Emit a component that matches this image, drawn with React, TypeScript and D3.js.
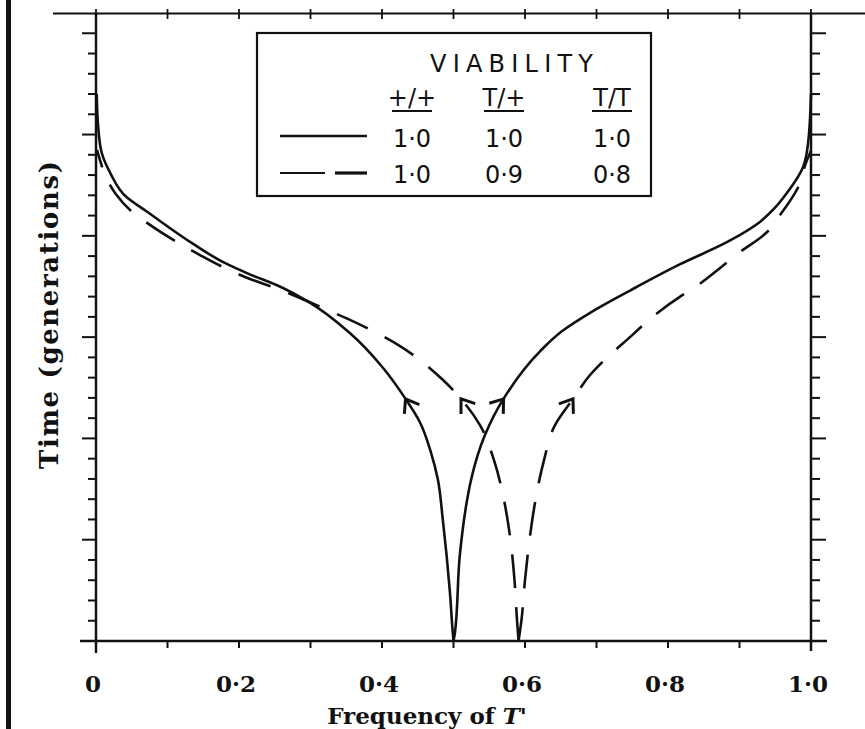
import React from 'react';
import * as d3 from 'd3';

// ---- data ----
const xTickValues = [0, 0.2, 0.4, 0.6, 0.8, 1.0];
const xTickLabels = ['0', '0·2', '0·4', '0·6', '0·8', '1·0'];
const xMinorValues = d3.range(0, 11).map((i) => i / 10);
const yMinorValues = d3.range(0, 31);
const yMajorValues = [0, 5, 10, 15, 20, 25, 30];

// [frequency, time]
const solidLeft: [number, number][] = [
  [0.5, 0], [0.499, 0.4], [0.495, 2.4], [0.485, 6.0], [0.478, 8.0], [0.4685, 9.3],
  [0.453, 10.8], [0.432, 12.0], [0.401, 13.5], [0.355, 15.2], [0.299, 16.7],
  [0.257, 17.5], [0.215, 18.1], [0.178, 18.7], [0.136, 19.6], [0.071, 21.2],
  [0.043, 21.9], [0.02, 23.1], [0.008, 24.1], [0.003, 25.4], [0.001, 27.0],
];
const solidRight: [number, number][] = [
  [0.5, 0], [0.502, 0.4], [0.509, 4.3], [0.519, 6.96], [0.5245, 7.95], [0.544, 10.17],
  [0.569, 11.9], [0.621, 14.3], [0.652, 15.3], [0.691, 16.2], [0.747, 17.3],
  [0.817, 18.6], [0.883, 19.7], [0.929, 20.7], [0.950, 21.4], [0.966, 22.1],
  [0.989, 23.4], [0.996, 24.6], [1.0, 27.0],
];
const dashedLeft: [number, number][] = [
  [0.591, 0], [0.5888, 1.04], [0.5853, 3.01], [0.5797, 4.99], [0.5706, 6.96],
  [0.5566, 8.93], [0.537, 10.66], [0.5105, 11.95], [0.4839, 12.93], [0.4601, 13.67],
  [0.4252, 14.56], [0.3902, 15.25], [0.3552, 15.85], [0.3203, 16.39], [0.2853, 16.93],
  [0.2503, 17.43], [0.2154, 17.87], [0.1804, 18.41], [0.1455, 19.05], [0.1105, 19.75],
  [0.0755, 20.54], [0.0476, 21.28], [0.0266, 22.12], [0.0126, 23.0], [0.0056, 23.74],
  [0.0014, 24.24],
];
const dashedRight: [number, number][] = [
  [0.591, 0], [0.5951, 1.04], [0.6, 3.01], [0.6063, 4.99], [0.6147, 6.96],
  [0.6266, 8.93], [0.642, 10.66], [0.6671, 11.95], [0.691, 13.13], [0.715, 14.0],
  [0.75, 15.1], [0.775, 15.9], [0.817, 17.0], [0.835, 17.4], [0.876, 18.5],
  [0.897, 19.1], [0.939, 20.2], [0.954, 20.9], [0.982, 22.4], [0.994, 23.7], [1.0, 24.2],
];
const arrowTime = 11.95;

const legendHeaders = ['+/+', 'T/+', 'T/T'];
const legendSolid = ['1·0', '1·0', '1·0'];
const legendDashed = ['1·0', '0·9', '0·8'];

export default function App() {
  const x = d3.scaleLinear().domain([0, 1]).range([96, 811]);
  const y = d3.scaleLinear().domain([0, 31]).range([641, 13]);
  const line = d3
    .line<[number, number]>()
    .x((d) => x(d[0]))
    .y((d) => y(d[1]))
    .curve(d3.curveMonotoneY);

  const arrowFor = (pts: [number, number][]) => {
    let i = 1;
    while (i < pts.length - 1 && pts[i][1] < arrowTime) i++;
    const a = pts[i - 1];
    const b = pts[i];
    const t = (arrowTime - a[1]) / (b[1] - a[1]);
    const fx = a[0] + (b[0] - a[0]) * t;
    const px = x(fx);
    const py = y(arrowTime);
    const dx = x(b[0]) - x(a[0]);
    const dy = y(b[1]) - y(a[1]);
    const ang = Math.atan2(-dy, -dx);
    const L = 15;
    const s = (36 * Math.PI) / 180;
    const p1 = [px + L * Math.cos(ang + s), py + L * Math.sin(ang + s)];
    const p2 = [px + L * Math.cos(ang - s), py + L * Math.sin(ang - s)];
    return `M${p1[0]},${p1[1]}L${px},${py}L${p2[0]},${p2[1]}`;
  };

  const serif = "'DejaVu Serif', 'Liberation Serif', serif";
  const sans = "'DejaVu Sans', 'Noto Sans', sans-serif";
  const colX = [412, 504, 612];

  return (
    <svg
      width={865}
      height={729}
      style={{ position: 'absolute', left: 0, top: 0, background: '#fff' }}
    >
      <rect x={0} y={0} width={865} height={729} fill="#fff" />
      <rect x={6} y={0} width={5} height={729} fill="#111" />

      {/* axes */}
      <g stroke="#111" fill="none">
        <line x1={53} x2={865} y1={13.5} y2={13.5} strokeWidth={2} />
        <line x1={80} x2={827} y1={y(0)} y2={y(0)} strokeWidth={2.5} />
        <line x1={x(0)} x2={x(0)} y1={13} y2={653} strokeWidth={2.5} />
        <line x1={x(1)} x2={x(1)} y1={13} y2={651} strokeWidth={2.5} />
        {xMinorValues.map((v) => (
          <g key={'xt' + v}>
            <line x1={x(v)} x2={x(v)} y1={y(0)} y2={y(0) + 7} strokeWidth={2} />
            <line x1={x(v)} x2={x(v)} y1={9} y2={19} strokeWidth={1.8} />
          </g>
        ))}
        {yMinorValues.map((v) => {
          const major = yMajorValues.includes(v);
          return (
            <g key={'yt' + v}>
              <line x1={x(0) - (major ? 14 : 8)} x2={x(0)} y1={y(v)} y2={y(v)} strokeWidth={2} />
              <line x1={x(1)} x2={x(1) + (major ? 15 : 9)} y1={y(v)} y2={y(v)} strokeWidth={2} />
            </g>
          );
        })}
      </g>

      {/* tick labels */}
      <g fontFamily={serif} fontSize={23} fontWeight="bold" fill="#111" textAnchor="middle">
        {xTickValues.map((v, i) => (
          <text key={'xl' + v} x={x(v) - 3} y={692}>
            {xTickLabels[i]}
          </text>
        ))}
      </g>
      <text
        x={427}
        y={724}
        fontFamily={serif}
        fontSize={23}
        fontWeight="bold"
        textAnchor="middle"
        fill="#111"
      >
        Frequency of <tspan fontStyle="italic">T'</tspan>
      </text>
      <text
        transform="translate(58,315) rotate(-90)"
        fontFamily={serif}
        fontSize={26}
        fontWeight="bold"
        textAnchor="middle"
        fill="#111"
        textLength={308}
        lengthAdjust="spacing"
      >
        Time (generations)
      </text>

      {/* curves */}
      <g fill="none" stroke="#111" strokeWidth={2.6}>
        <path d={line(solidLeft) || ''} />
        <path d={line(solidRight) || ''} />
        <path d={line(dashedLeft) || ''} strokeDasharray="34 19" />
        <path d={line(dashedRight) || ''} strokeDasharray="34 19" />
        {[solidLeft, solidRight, dashedLeft, dashedRight].map((c, i) => (
          <path key={'ar' + i} d={arrowFor(c)} strokeWidth={3} />
        ))}
      </g>

      {/* legend */}
      <rect x={257} y={33} width={394} height={163} fill="#fff" stroke="#111" strokeWidth={2.2} />
      <g fontFamily={sans} fontSize={24} fill="#111">
        <text x={430} y={72} textLength={163} lengthAdjust="spacing">
          VIABILITY
        </text>
        {legendHeaders.map((h, i) => (
          <g key={'h' + i}>
            <text x={colX[i]} y={106} textAnchor="middle">
              {h}
            </text>
            <line
              x1={colX[i] - 20}
              x2={colX[i] + 20}
              y1={111}
              y2={111}
              stroke="#111"
              strokeWidth={2}
            />
          </g>
        ))}
        {legendSolid.map((t, i) => (
          <text key={'s' + i} x={colX[i]} y={147} textAnchor="middle">
            {t}
          </text>
        ))}
        {legendDashed.map((t, i) => (
          <text key={'d' + i} x={colX[i]} y={183} textAnchor="middle">
            {t}
          </text>
        ))}
      </g>
      <g stroke="#111">
        <line x1={280} x2={367} y1={136} y2={136} strokeWidth={2.4} />
        <line x1={280} x2={325} y1={173} y2={173} strokeWidth={2} />
        <line x1={335} x2={367} y1={173} y2={173} strokeWidth={3.2} />
      </g>
    </svg>
  );
}
